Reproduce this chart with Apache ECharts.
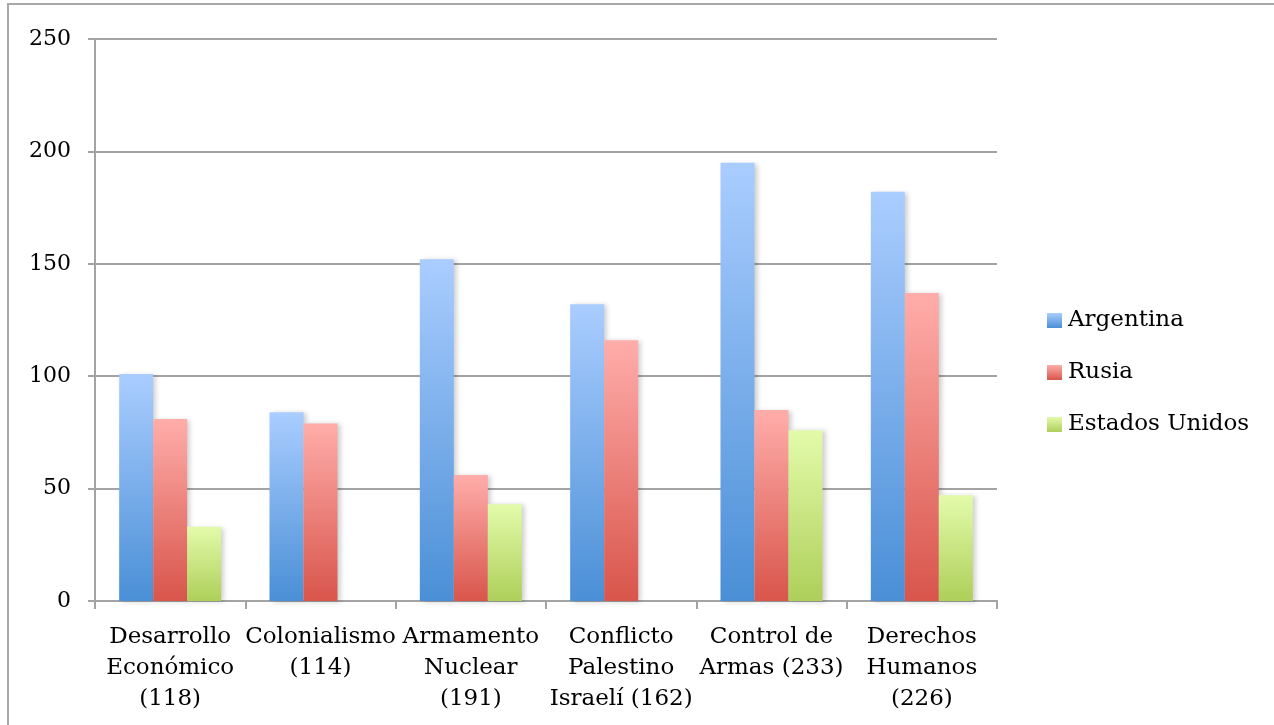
<!DOCTYPE html>
<html>
<head>
<meta charset="utf-8">
<title>Argentina, Rusia y Estados Unidos por tema</title>
<script src="https://cdn.jsdelivr.net/npm/echarts@6/dist/echarts.min.js"></script>
<style>
  html, body { margin: 0; padding: 0; background: #fff; }
  #chart { width: 1274px; height: 725px; }
</style>
</head>
<body>
<div id="chart"></div>
<script>
// Temas y total de votaciones de cada uno
const categories = [
  'Desarrollo\nEconómico\n(118)',
  'Colonialismo\n(114)',
  'Armamento\nNuclear\n(191)',
  'Conflicto\nPalestino\nIsraelí (162)',
  'Control de\nArmas (233)',
  'Derechos\nHumanos\n(226)'
];
const seriesNames = ['Argentina', 'Rusia', 'Estados Unidos'];
const argentina = [101, 84, 152, 132, 195, 182];
const rusia = [81, 79, 56, 116, 85, 137];
const estadosUnidos = [33, null, 43, null, 76, 47];
const yTicks = { min: 0, max: 250, step: 50 };

const FONT = 'DejaVu Serif';
const AXIS_GRAY = '#a3a3a3';

function vgrad(top, bottom) {
  return new echarts.graphic.LinearGradient(0, 0, 0, 1, [
    { offset: 0, color: top },
    { offset: 1, color: bottom }
  ]);
}

const palettes = [
  vgrad('#aacdff', '#4a8fd6'),
  vgrad('#ffadaa', '#d8554b'),
  vgrad('#e3fbaa', '#aecf5a')
];
const values = [argentina, rusia, estadosUnidos];

const chart = echarts.init(document.getElementById('chart'), null, { renderer: 'canvas' });

chart.setOption({
  backgroundColor: '#ffffff',
  animation: false,
  graphic: [{
    // marco exterior del gráfico
    type: 'rect',
    shape: { x: 8, y: 4, width: 1400, height: 900 },
    style: { fill: 'none', stroke: '#a8a8a8', lineWidth: 2 },
    silent: true,
    z: -1
  }],
  grid: { left: 95, right: 277, top: 39, bottom: 124, containLabel: false },
  legend: {
    orient: 'vertical',
    left: 1047,
    top: 309,
    padding: 0,
    itemWidth: 15,
    itemHeight: 15,
    itemGap: 29,
    icon: 'rect',
    textStyle: { fontFamily: FONT, fontSize: 23, color: '#000', padding: [0, 0, 0, 1] },
    data: seriesNames
  },
  xAxis: {
    type: 'category',
    data: categories,
    axisLine: { show: true, lineStyle: { color: AXIS_GRAY, width: 2 } },
    axisTick: { show: true, alignWithLabel: false, length: 8, lineStyle: { color: AXIS_GRAY, width: 2 } },
    axisLabel: {
      interval: 0,
      margin: 21,
      fontFamily: FONT,
      fontSize: 23,
      lineHeight: 31,
      color: '#000',
      align: 'center'
    },
    splitLine: { show: false }
  },
  yAxis: {
    type: 'value',
    min: yTicks.min,
    max: yTicks.max,
    interval: yTicks.step,
    axisLine: { show: true, lineStyle: { color: AXIS_GRAY, width: 2 } },
    axisTick: { show: true, length: 7, lineStyle: { color: AXIS_GRAY, width: 2 } },
    axisLabel: { margin: 24, fontFamily: FONT, fontSize: 22, color: '#000' },
    splitLine: { show: true, lineStyle: { color: AXIS_GRAY, width: 2 } }
  },
  series: seriesNames.map((name, i) => ({
    name: name,
    type: 'bar',
    data: values[i],
    barWidth: 34,
    barGap: '0%',
    itemStyle: {
      color: palettes[i],
      shadowColor: 'rgba(0,0,0,0.2)',
      shadowBlur: 5,
      shadowOffsetX: 3,
      shadowOffsetY: 1
    }
  }))
});
</script>
</body>
</html>
